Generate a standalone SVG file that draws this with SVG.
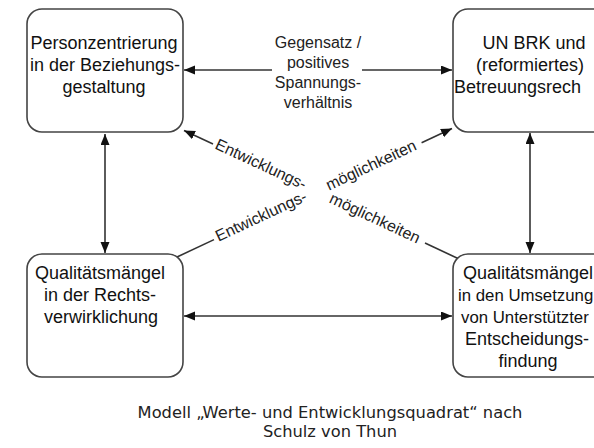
<svg xmlns="http://www.w3.org/2000/svg" width="594" height="448" viewBox="0 0 594 448">
<style>
.box{fill:#fff;stroke:#444;stroke-width:1.6}
.t{font-family:"Liberation Sans",Arial,sans-serif;font-size:18px;fill:#111}
.s{font-size:16.8px}
.m{font-family:"Liberation Sans",Arial,sans-serif;font-size:16px;fill:#222}
.c{font-family:"DejaVu Sans",Verdana,sans-serif;font-size:16.3px;fill:#222;text-anchor:middle}
.ln{stroke:#333;stroke-width:1.6;fill:none}
</style>
<defs>
<marker id="ah" markerUnits="userSpaceOnUse" markerWidth="12" markerHeight="10" refX="11" refY="4.5" orient="auto-start-reverse"><path d="M0,0 L11,4.5 L0,9 z" fill="#111"/></marker>
</defs>
<rect width="594" height="448" fill="#fff"/>
<g id="connectors">
<line class="ln" x1="272" y1="70" x2="184" y2="70" marker-end="url(#ah)"/>
<line class="ln" x1="362" y1="70" x2="452" y2="70" marker-end="url(#ah)"/>
<line class="ln" x1="105" y1="134" x2="105" y2="253" marker-start="url(#ah)" marker-end="url(#ah)"/>
<line class="ln" x1="530" y1="133" x2="530" y2="253" marker-start="url(#ah)" marker-end="url(#ah)"/>
<line class="ln" x1="184" y1="316" x2="452" y2="316" marker-start="url(#ah)" marker-end="url(#ah)"/>
<line class="ln" x1="213" y1="144" x2="184" y2="130.5" marker-end="url(#ah)"/>
<line class="ln" x1="425" y1="243" x2="458" y2="258.5"/>
<line class="ln" x1="177" y1="257" x2="214" y2="239.6"/>
<line class="ln" x1="421.6" y1="142.7" x2="452" y2="128.5" marker-end="url(#ah)"/>
<text class="m" text-anchor="middle"><tspan x="318" y="48">Gegensatz /</tspan><tspan x="318" y="68">positives</tspan><tspan x="318" y="88">Spannungs-</tspan><tspan x="318" y="108">verhältnis</tspan></text>
<text class="m" text-anchor="middle" dominant-baseline="central" transform="translate(261,164) rotate(25)">Entwicklungs-</text>
<text class="m" text-anchor="middle" dominant-baseline="central" transform="translate(375,218) rotate(25)">möglichkeiten</text>
<text class="m" text-anchor="middle" dominant-baseline="central" transform="translate(261,216) rotate(-25)">Entwicklungs-</text>
<text class="m" text-anchor="middle" dominant-baseline="central" transform="translate(371,165) rotate(-25)">möglichkeiten</text>
</g>
<g id="node-tl">
<rect class="box" x="27" y="9" width="156" height="123" rx="15"/>
<text class="t" text-anchor="middle"><tspan x="104" y="49">Personzentrierung</tspan><tspan x="105" y="71">in der Beziehungs-</tspan><tspan x="104" y="93">gestaltung</tspan></text>
</g>
<g id="node-tr">
<rect class="box" x="453" y="9" width="160" height="123" rx="15"/>
<text class="t"><tspan x="534" y="49" text-anchor="middle">UN BRK und</tspan><tspan x="530" y="71" text-anchor="middle">(reformiertes)</tspan><tspan x="454" y="93">Betreuungsrech</tspan></text>
</g>
<g id="node-bl">
<rect class="box" x="27" y="254" width="156" height="123" rx="15"/>
<text class="t" text-anchor="middle"><tspan x="100" y="279">Qualitätsmängel</tspan><tspan x="100" y="301">in der Rechts-</tspan><tspan x="101" y="323">verwirklichung</tspan></text>
</g>
<g id="node-br">
<rect class="box" x="453" y="254" width="160" height="123" rx="15"/>
<text class="t" x="463" y="279">Qualitätsmängel</text>
<text class="t s" x="458" y="301">in den Umsetzung</text>
<text class="t s" x="461" y="323">von Unterstützter</text>
<text class="t" text-anchor="middle"><tspan x="527" y="345">Entscheidungs-</tspan><tspan x="528" y="367">findung</tspan></text>
</g>
<g id="caption">
<text class="c"><tspan x="330" y="418">Modell „Werte- und Entwicklungsquadrat“ nach</tspan><tspan x="330" y="437">Schulz von Thun</tspan></text>
</g>
</svg>
